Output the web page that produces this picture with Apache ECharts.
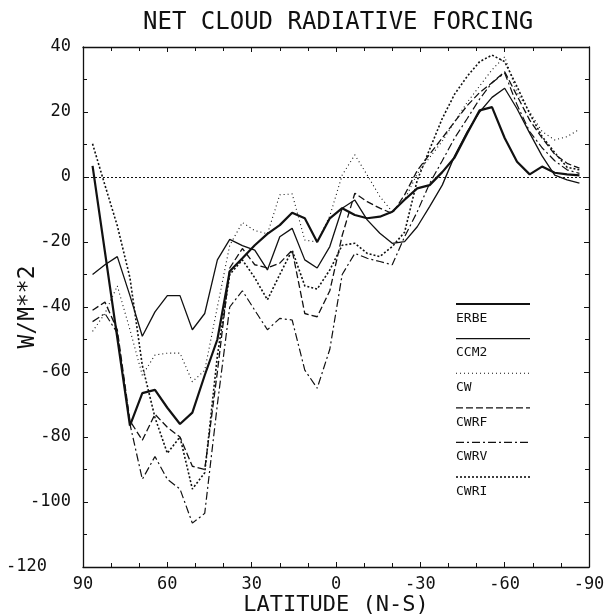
<!DOCTYPE html>
<html>
<head>
<meta charset="utf-8">
<script src="https://cdn.jsdelivr.net/npm/echarts/dist/echarts.min.js"></script>
<style>
  html, body { margin: 0; padding: 0; background: #fff; }
  #chart { width: 609px; height: 615px; }
</style>
</head>
<body>
<div id="chart"></div>
<script>
// latitudes of the model grid (R15 gaussian), north -> south
const lats = [86.6, 82.2, 77.8, 73.3, 68.9, 64.4, 60.0, 55.5, 51.1, 46.7, 42.2, 37.8, 33.3, 28.9, 24.4, 20.0, 15.6, 11.1, 6.7, 2.2,
              -2.2, -6.7, -11.1, -15.6, -20.0, -24.4, -28.9, -33.3, -37.8, -42.2, -46.7, -51.1, -55.5, -60.0, -64.4, -68.9, -73.3, -77.8, -82.2, -86.6];

// net cloud radiative forcing, W/m**2
const erbe = [3.4, -23, -49.5, -76.5, -66.5, -65.5, -71, -76, -72.5, -61, -50, -29, -25, -21, -17.5, -14.8, -11, -12.7, -20, -12.7,
              -9.6, -11.7, -12.7, -12.2, -10.7, -7, -3.5, -2.5, 1.5, 6, 13.5, 20.5, 21.5, 12, 4.7, 0.8, 3.2, 1.3, 0.8, 0.5];
const ccm2 = [-30, -27, -24.5, -36.5, -49, -41.5, -36.5, -36.5, -47, -42, -25.5, -19.2, -21.1, -22.5, -28.6, -18.4, -15.8, -25.5, -28, -21.4,
              -9.6, -7.1, -13.2, -17.3, -20.4, -19.9, -15.3, -9.1, -2.5, 6.5, 14, 20, 24.5, 27.3, 21, 13.5, 6.5, 0.6, -0.9, -1.9];
const cw   = [-47.5, -42, -33.5, -47, -61, -54.8, -54.2, -54.2, -63, -59.5, -40, -21, -14, -16.5, -17.5, -5.5, -5.2, -19.4, -20, -12,
              0.6, 6.8, 0.6, -6, -10.7, -7, 1, 6, 11, 17, 23, 28, 33, 37, 26, 20, 14, 11.4, 12.4, 14.7];
const cwrf = [-41, -38.5, -47, -75, -81, -73, -77, -80, -89, -90, -60, -28, -22, -27, -28, -26.5, -22.5, -42, -43, -35,
              -18, -5, -7.6, -9.6, -11.2, -5.5, 2, 7, 12, 17, 22, 26, 29, 32.4, 25, 17.5, 12, 7, 4.2, 2.7];
const cwrv = [-44.5, -42, -48, -76, -93, -86, -93, -96, -106.5, -103.5, -70, -40, -35, -41, -47, -43.5, -44, -59.4, -65, -53,
              -30, -23.5, -25, -26, -27, -18.4, -10.7, -2, 5, 12, 18, 24, 29, 32, 22.2, 14, 9, 5, 2.2, 1.1];
const cwri = [10.2, -2.5, -15, -31, -58, -74, -85, -80, -96, -91, -55, -30, -25.5, -31, -37.8, -30, -22.5, -33.5, -34.5, -28.6,
              -21, -20.4, -23.5, -24.5, -21.4, -17, -1, 8.5, 18, 25.5, 31, 35.5, 37.5, 35.5, 27.8, 19.5, 12.5, 7.5, 3, 2.2];

const names  = ['ERBE', 'CCM2', 'CW', 'CWRF', 'CWRV', 'CWRI'];
const values = [erbe, ccm2, cw, cwrf, cwrv, cwri];
const xTicks = [90, 60, 30, 0, -30, -60, -90];

// plotter-ish line styles
const styles = [
  { width: 2.2, type: 'solid' },
  { width: 1.3, type: 'solid' },
  { width: 1.1, type: [1, 3] },
  { width: 1.3, type: [7, 3] },
  { width: 1.2, type: [8, 3, 2, 3] },
  { width: 1.6, type: [2, 2] }
];

const FONT = 'DejaVu Sans Mono';
const chart = echarts.init(document.getElementById('chart'));

const series = names.map((n, k) => ({
  name: n,
  type: 'line',
  xAxisIndex: 0,
  yAxisIndex: 0,
  symbol: 'none',
  silent: true,
  animation: false,
  lineStyle: { color: '#111', width: styles[k].width, type: styles[k].type },
  data: lats.map((la, i) => [la, values[k][i]]),
  markLine: k === 0 ? {
    silent: true,
    symbol: 'none',
    label: { show: false },
    lineStyle: { color: '#111', width: 1, type: [2, 2] },
    data: [{ yAxis: 0 }]
  } : undefined
}));

// legend drawn as line above name, like the original plot
const legendItems = [];
names.forEach((n, k) => {
  const y = 304 + k * 34.6;
  legendItems.push({
    type: 'line',
    shape: { x1: 456, y1: y, x2: 530, y2: y },
    style: { stroke: '#111', lineWidth: styles[k].width, lineDash: Array.isArray(styles[k].type) ? styles[k].type : null }
  });
  legendItems.push({
    type: 'text',
    left: 456, top: y + 8,
    style: { text: n, fill: '#111', font: '13px "' + FONT + '"' }
  });
});

const frameAxis = {
  axisLine: { show: true, onZero: false, lineStyle: { color: '#111', width: 1.3 } },
  axisTick: { show: true, inside: true, length: 5, lineStyle: { color: '#111' } },
  minorTick: { show: true, splitNumber: 3, length: 4, lineStyle: { color: '#111' } },
  splitLine: { show: false }
};

chart.setOption({
  backgroundColor: '#fff',
  animation: false,
  title: {
    text: 'NET CLOUD RADIATIVE FORCING',
    left: 138, top: 6,
    textStyle: { fontFamily: FONT, fontSize: 24, fontWeight: 'normal', color: '#111' }
  },
  grid: { left: 83, right: 20, top: 47, bottom: 48, containLabel: false, outerBoundsMode: 'none' },
  xAxis: [
    Object.assign({}, frameAxis, {
      type: 'value', min: -90, max: 90, interval: 30, inverse: true, position: 'bottom',
      name: 'LATITUDE (N-S)', nameLocation: 'middle', nameGap: 27, nameMoveOverlap: false,
      nameTextStyle: { fontFamily: FONT, fontSize: 22, color: '#111' },
      axisLabel: { fontFamily: FONT, fontSize: 17, color: '#111', margin: 9,
                   formatter: v => xTicks.includes(v) ? String(v) : '' }
    }),
    Object.assign({}, frameAxis, {
      type: 'value', min: -90, max: 90, interval: 30, inverse: true, position: 'top',
      axisLabel: { show: false }
    })
  ],
  yAxis: [
    Object.assign({}, frameAxis, {
      type: 'value', min: -120, max: 40, interval: 20, position: 'left',
      minorTick: { show: true, splitNumber: 2, length: 4, lineStyle: { color: '#111' } },
      name: 'W/M**2', nameLocation: 'middle', nameGap: 43, nameRotate: 90, nameMoveOverlap: false,
      nameTextStyle: { fontFamily: FONT, fontSize: 23, color: '#111' },
      axisLabel: {
        fontFamily: FONT, fontSize: 17, color: '#111', margin: 12,
        // lowest label sits left of the corner so it clears the "90"
        formatter: v => v === -120 ? '{low|' + v + '}' : String(v),
        rich: { low: { fontFamily: FONT, fontSize: 17, color: '#111', padding: [0, 24, 0, 0] } }
      }
    }),
    Object.assign({}, frameAxis, {
      type: 'value', min: -120, max: 40, interval: 20, position: 'right',
      minorTick: { show: true, splitNumber: 2, length: 4, lineStyle: { color: '#111' } },
      axisLabel: { show: false }
    })
  ],
  graphic: legendItems,
  series: series
});
</script>
</body>
</html>
